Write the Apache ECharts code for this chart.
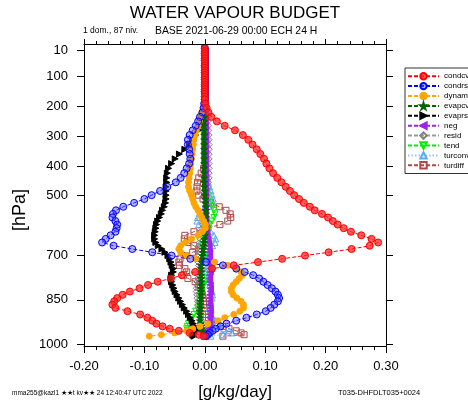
<!DOCTYPE html>
<html><head><meta charset="utf-8">
<script src="https://cdn.jsdelivr.net/npm/echarts@6/dist/echarts.min.js"></script>
<style>html,body{margin:0;padding:0;background:#fff}#c{width:468px;height:402px}</style>
</head><body><div id="c"></div>
<script>
// pressure levels (hPa)
const levels = [6,14,22,30,38,46,54,62,70,78,86,94,102,110,118,126,134,142,150,158,167,176,190,
 205,220,235,250,265,280,296,312,328,344,
 360,376,392,408,424,440,455,470,484,498,
 511,524,537,549,561,573,585,597,609,621,
 633,645,657,668,679,690,701,712,723,734,
 745,756,767,778,789,800,811,822,833,844,
 855,866,877,888,899,910,920,930,939,947,
 954,961,967,972];
const yTicks = [10,100,200,300,400,500,700,850,1000];
const xTickLabels = ['-0.20','-0.10','0.00','0.10','0.20','0.30'];

const condcv = [0,0,0,0,0,0,0,0,0,0,0,0,0,0,0,0,0,0,0,0,0,0,0.001,
 0.003,0.006,0.011,0.020,0.033,0.050,0.063,0.072,0.079,0.086,
 0.092,0.098,0.102,0.107,0.113,0.120,0.127,0.134,0.141,0.148,
 0.156,0.164,0.174,0.182,0.194,0.204,0.212,0.220,0.230,0.242,
 0.259,0.276,0.287,0.273,0.243,0.205,0.166,0.128,0.088,0.048,
 0.012,-0.016,-0.038,-0.056,-0.078,-0.094,-0.108,-0.124,-0.136,-0.145,
 -0.150,-0.153,-0.148,-0.128,-0.107,-0.095,-0.087,-0.080,-0.070,-0.058,
 -0.043,-0.025,-0.010,-0.002];
const condrs = [0,0,0,0,0,0,0,0,0,0,0,0,0,0,0,0,0,0,0,0,0,0,-0.001,
 -0.002,-0.004,-0.008,-0.011,-0.015,-0.020,-0.025,-0.028,-0.028,-0.026,
 -0.025,-0.024,-0.026,-0.030,-0.034,-0.040,-0.048,-0.062,-0.074,-0.088,
 -0.100,-0.117,-0.135,-0.147,-0.152,-0.153,-0.148,-0.145,-0.146,-0.148,
 -0.156,-0.164,-0.170,-0.151,-0.120,-0.087,-0.055,-0.024,0.002,0.030,
 0.052,0.066,0.080,0.090,0.097,0.104,0.111,0.117,0.121,0.123,
 0.121,0.115,0.109,0.101,0.086,0.069,0.052,0.036,0.026,0.018,
 0.013,0.008,0.005,0.002];
const dynam = [0,0,0,0,0,0,0,0,0,0,0,0,0,0,0,0,0,0,0,0,0,0,-0.001,
 -0.002,-0.005,-0.007,-0.009,-0.011,-0.014,-0.016,-0.018,-0.019,-0.020,
 -0.021,-0.022,-0.023,-0.024,-0.025,-0.026,-0.027,-0.027,-0.025,-0.022,
 -0.020,-0.018,-0.015,-0.011,-0.008,-0.005,-0.002,0.001,0.001,-0.004,
 -0.011,-0.022,-0.032,-0.040,-0.043,-0.040,-0.030,-0.015,0.016,0.038,
 0.053,0.060,0.062,0.057,0.052,0.047,0.044,0.044,0.047,0.053,
 0.060,0.064,0.064,0.058,0.048,0.033,0.022,0.005,-0.008,-0.020,
 -0.030,-0.050,-0.072,-0.092];
const evapcv = [0,0,0,0,0,0,0,0,0,0,0,0,0,0,0,0,0,0,0,0,0,0,0,
 0,0,-0.001,-0.001,-0.001,-0.001,-0.001,-0.001,-0.001,-0.001,
 -0.001,-0.001,-0.001,-0.001,-0.001,-0.001,-0.001,-0.001,0,0,
 0.001,0.001,0.002,0.002,0.002,0.002,0.002,0.001,0.001,0,
 0,-0.001,-0.001,-0.002,-0.003,-0.003,-0.004,-0.005,-0.005,-0.006,
 -0.006,-0.006,-0.006,-0.006,-0.006,-0.006,-0.006,-0.006,-0.006,-0.006,
 -0.007,-0.007,-0.007,-0.008,-0.008,-0.008,-0.008,-0.007,-0.006,-0.005,
 -0.004,-0.003,-0.002,-0.001];
const evaprs = [0,0,0,0,0,0,0,0,0,0,0,0,0,0,0,0,0,0,0,0,0,0,0,
 0,-0.001,-0.002,-0.003,-0.006,-0.010,-0.015,-0.020,-0.025,-0.033,
 -0.042,-0.049,-0.055,-0.060,-0.062,-0.063,-0.063,-0.064,-0.064,-0.064,
 -0.064,-0.065,-0.067,-0.070,-0.072,-0.075,-0.078,-0.080,-0.081,-0.082,
 -0.083,-0.083,-0.081,-0.077,-0.071,-0.066,-0.061,-0.058,-0.056,-0.054,
 -0.052,-0.052,-0.055,-0.056,-0.055,-0.053,-0.051,-0.049,-0.046,-0.043,
 -0.040,-0.037,-0.034,-0.030,-0.027,-0.024,-0.021,-0.019,-0.017,-0.015,
 -0.014,-0.017,-0.020,-0.018];
const neg = [0,0,0,0,0,0,0,0,0,0,0,0,0,0,0,0,0,0,0,0,0,0,0,
 0.001,0.001,0.001,0.001,0.001,0.001,0.001,0.001,0.001,0.001,
 0.001,0.001,0.001,0.001,0.001,0.001,0.001,0.001,0.001,0.001,
 0.001,0.001,0.001,0.001,0.001,0.001,0.001,0.002,0.002,0.003,
 0.004,0.005,0.006,0.007,0.007,0.008,0.008,0.008,0.008,0.009,
 0.009,0.009,0.008,0.008,0.008,0.009,0.009,0.009,0.008,0.008,
 0.008,0.008,0.009,0.009,0.009,0.008,0.008,0.008,0.008,0.007,
 0.006,0.004,0.002,0.001];
const resid = [0,0,0,0,0,0,0,0,0,0,0,0,0,0,0,0,0,0,0,0,0.001,0.001,0.002,
 0.003,0.004,0.005,0.006,0.007,0.007,0.008,0.008,0.008,0.008,
 0.008,0.008,0.008,0.008,0.008,0.008,0.007,0.006,0.005,0.004,
 0.003,0.002,0.001,0.000,-0.002,-0.003,-0.004,-0.005,-0.006,-0.007,
 -0.008,-0.009,-0.010,-0.011,-0.012,-0.013,-0.013,-0.013,-0.012,-0.011,
 -0.010,-0.011,-0.012,-0.013,-0.014,-0.014,-0.015,-0.015,-0.014,-0.014,
 -0.013,-0.012,-0.011,-0.010,-0.008,-0.006,-0.004,-0.002,0.000,0.002,
 0.003,0.002,0.001,0.000];
const tend = [0,0,0,0,0,0,0,0,0,0,0,0,0,0,0,0,0,0,0,0,0,0,0.001,
 0.001,0.001,0.001,0.001,0.001,0.001,0.001,0.001,0.001,0.001,
 0.001,0.001,0.001,0.002,0.002,0.003,0.003,0.004,0.004,0.005,
 0.007,0.010,0.013,0.015,0.017,0.015,0.012,0.008,0.006,0.004,
 0.002,0.000,-0.003,-0.004,-0.002,0.002,0.004,0.006,0.008,0.010,
 0.012,0.012,0.008,0.004,0.000,-0.002,-0.004,-0.005,-0.006,-0.007,
 -0.008,-0.010,-0.012,-0.015,-0.018,-0.021,-0.024,-0.027,-0.029,-0.030,
 -0.028,-0.025,-0.022,-0.020];
const turconv = [0,0,0,0,0,0,0,0,0,0,0,0,0,0,0,0,0,0,0,0,0,0,0.001,
 0.001,0.001,0.001,0.001,0.001,0.001,0.001,0.001,0.001,0.001,
 0.001,0.001,0.001,0.002,0.003,0.004,0.006,0.008,0.010,0.012,
 0.014,0.013,0.006,-0.003,-0.009,-0.012,-0.013,-0.010,0.000,0.010,
 0.015,0.018,0.017,0.013,0.009,0.006,0.004,0.003,0.004,0.005,
 0.004,0.003,0.003,0.004,0.006,0.008,0.010,0.012,0.013,0.012,
 0.010,0.008,0.007,0.008,0.010,0.013,0.016,0.020,0.025,0.032,
 0.040,0.045,0.030,0.010];
const turdiff = [0,0,0,0,0,0,0,0,0,0,0,0,0,0,0,0,0,0,0,0,0,0,0,
 0,0,0,0,0,0,0,0,0,0,
 0,0,0,-0.002,-0.006,-0.010,-0.012,-0.013,-0.013,-0.010,
 -0.003,0.010,0.024,0.035,0.042,0.043,0.038,0.025,0.005,-0.018,
 -0.033,-0.034,-0.028,-0.018,-0.010,-0.020,-0.032,-0.041,-0.043,-0.042,
 -0.033,-0.030,-0.035,-0.028,-0.016,-0.010,-0.007,-0.005,-0.004,-0.003,
 -0.002,-0.002,-0.001,0.000,0.002,0.006,0.012,0.020,0.030,0.040,
 0.052,0.060,0.065,0.030];

const FONT = 'Liberation Sans, Arial, Helvetica, sans-serif';
const STAR = 'path://M50,0 L61,35 L98,35 L68,57 L79,91 L50,70 L21,91 L32,57 L2,35 L39,35 Z';
const TRI_R = 'path://M0,0 L10,5 L0,10 Z';
const TRI_L = 'path://M10,0 L0,5 L10,10 Z';
const TRI_D = 'path://M0,0 L10,0 L5,9 Z';
const CLEAR = 'rgba(0,0,0,0)';

const defs = [
 {name:'condcv', v:condcv, sym:'circle', size:7, fill:'rgba(255,40,40,0.75)', stroke:'#ff0000', line:'#ff0000', dash:[4,2]},
 {name:'condrs', v:condrs, sym:'circle', size:7, fill:'rgba(80,80,255,0.45)', stroke:'#0000ff', line:'#0000ff', dash:[4,2]},
 {name:'dynam', v:dynam, sym:'circle', size:6, fill:'#ffa500', stroke:'#ffa500', line:'#ffa500', dash:[4,2]},
 {name:'evapcv', v:evapcv, sym:STAR, size:7, fill:'#006400', stroke:'#006400', line:'#006400', dash:[4,2]},
 {name:'evaprs', v:evaprs, sym:TRI_R, size:6, fill:'#000000', stroke:'#000000', line:'#000000', dash:[4,2]},
 {name:'neg', v:neg, sym:TRI_L, size:6, fill:'#a020f0', stroke:'#a020f0', line:'#a020f0', dash:[4,2]},
 {name:'resid', v:resid, sym:'diamond', size:5, fill:CLEAR, stroke:'#808080', line:'#9a9a9a', dash:[4,2]},
 {name:'tend', v:tend, sym:TRI_D, size:6, fill:CLEAR, stroke:'#00ee00', line:'#00ee00', dash:[4,2]},
 {name:'turconv', v:turconv, sym:'triangle', size:6, fill:CLEAR, stroke:'#5aacf5', line:'#8cc8ff', dash:[1.5,2]},
 {name:'turdiff', v:turdiff, sym:'rect', size:6, fill:CLEAR, stroke:'#b04848', line:'#b04848', dash:[4,2]}
];

const series = defs.slice().reverse().map(d => ({
  name: d.name, type: 'line', xAxisIndex: 0, yAxisIndex: 0,
  data: levels.map((p, i) => [d.v[i], p]),
  symbol: d.sym, symbolSize: d.size, showSymbol: true, showAllSymbol: true,
  lineStyle: {color: d.line, width: 1, type: d.dash},
  itemStyle: {color: d.fill, borderColor: d.stroke, borderWidth: 1},
  emphasis: {disabled: true}, animation: false, clip: true
}));

const axisBase = {
  type: 'value', min: -0.2, max: 0.3, interval: 0.1,
  axisLine: {show: true, onZero: false, lineStyle: {color: '#000', width: 1}},
  splitLine: {show: false}
};
const yBase = {
  type: 'value', inverse: true, min: -10, max: 1005,
  axisLine: {show: true, onZero: false, lineStyle: {color: '#000', width: 1}},
  splitLine: {show: false}
};

const chart = echarts.init(document.getElementById('c'), null, {renderer: 'canvas'});
chart.setOption({
  animation: false,
  backgroundColor: '#fff',
  grid: {left: 84, top: 44, width: 302, height: 302, containLabel: false},
  xAxis: [
    Object.assign({}, axisBase, {position: 'bottom',
      axisTick: {show: true, length: 7, lineStyle: {color: '#000'}},
      minorTick: {show: true, splitNumber: 5, length: 4, lineStyle: {color: '#000'}},
      axisLabel: {show: true, margin: 14, fontSize: 13, fontFamily: FONT, color: '#000',
        formatter: (v) => xTickLabels[Math.round((v + 0.2) * 10)]}}),
    Object.assign({}, axisBase, {position: 'top',
      axisTick: {show: true, length: 5, lineStyle: {color: '#000'}},
      minorTick: {show: true, splitNumber: 5, length: 3, lineStyle: {color: '#000'}},
      axisLabel: {show: false}})
  ],
  yAxis: [
    Object.assign({}, yBase, {position: 'left',
      axisTick: {show: true, length: 7, customValues: yTicks, lineStyle: {color: '#000'}},
      axisLabel: {show: true, customValues: yTicks, margin: 16, fontSize: 13, fontFamily: FONT, color: '#000',
        formatter: (v) => String(Math.round(v))}}),
    Object.assign({}, yBase, {position: 'right',
      axisTick: {show: true, length: 7, customValues: yTicks, lineStyle: {color: '#000'}},
      axisLabel: {show: false}})
  ],
  legend: {
    orient: 'vertical', left: 405, top: 68,
    itemWidth: 31, itemHeight: 8, itemGap: 1.5,
    padding: [4, 4, 4, 2], borderColor: '#333', borderWidth: 1, backgroundColor: '#fff',
    textStyle: {fontSize: 8, fontFamily: FONT, color: '#000'},
    selectedMode: false,
    data: defs.map(d => d.name)
  },
  series: series,
  graphic: [
    {type: 'text', x: 235, y: 13, style: {text: 'WATER VAPOUR BUDGET', font: '17px ' + FONT, fill: '#000', align: 'center', verticalAlign: 'middle'}},
    {type: 'text', x: 83, y: 31, style: {text: '1 dom., 87 niv.', font: '8.5px ' + FONT, fill: '#000', align: 'left', verticalAlign: 'middle'}},
    {type: 'text', x: 155, y: 31, style: {text: 'BASE 2021-06-29 00:00 ECH 24 H', font: '10.4px ' + FONT, fill: '#000', align: 'left', verticalAlign: 'middle'}},
    {type: 'text', x: 235, y: 392, style: {text: '[g/kg/day]', font: '17px ' + FONT, fill: '#000', align: 'center', verticalAlign: 'middle'}},
    {type: 'text', x: 20, y: 210, rotation: Math.PI / 2, style: {text: '[hPa]', font: '18px ' + FONT, fill: '#000', align: 'center', verticalAlign: 'middle'}},
    {type: 'text', x: 12, y: 393, style: {text: 'mma255@kazl1 ★★t kv★★ 24 12:40:47 UTC 2022', font: '6.5px ' + FONT, fill: '#000', align: 'left', verticalAlign: 'middle'}},
    {type: 'text', x: 338, y: 393, style: {text: 'T035-DHFDLT035+0024', font: '7.5px ' + FONT, fill: '#000', align: 'left', verticalAlign: 'middle'}}
  ]
});
</script></body></html>
